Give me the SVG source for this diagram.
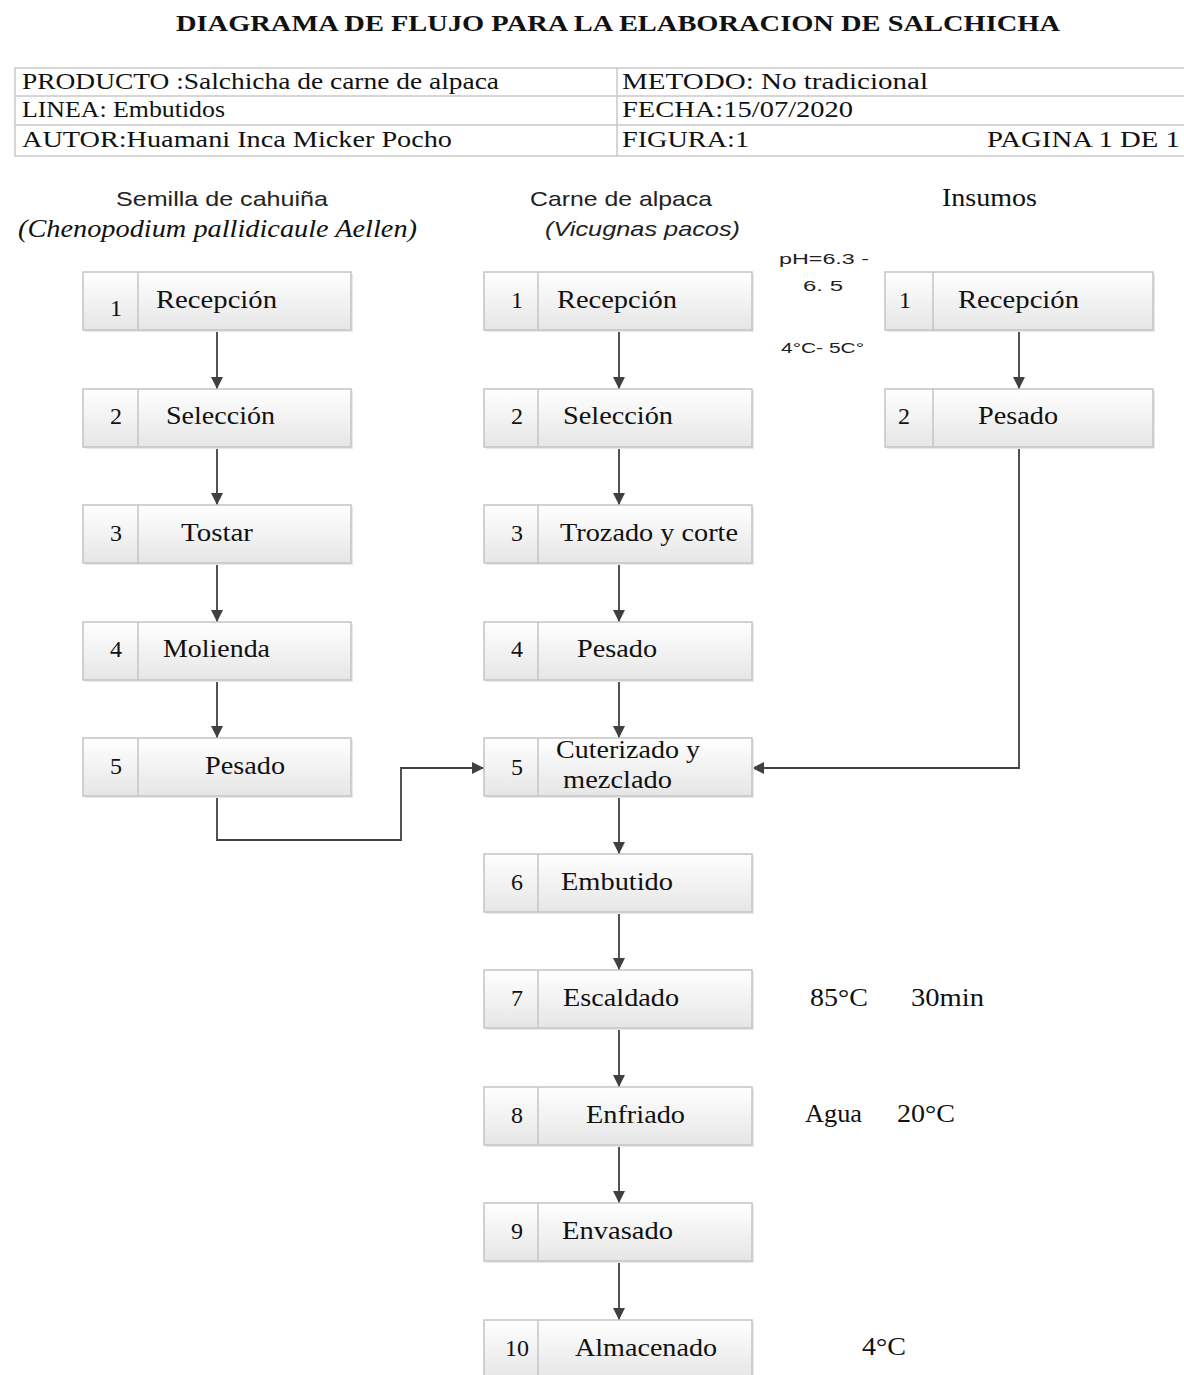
<svg xmlns="http://www.w3.org/2000/svg" width="1184" height="1375" viewBox="0 0 1184 1375">
<defs>
<linearGradient id="g" x1="0" y1="0" x2="0" y2="1">
<stop offset="0" stop-color="#ffffff"/>
<stop offset="1" stop-color="#e6e6e6"/>
</linearGradient>
<marker id="ar" markerWidth="12" markerHeight="12" refX="10" refY="5" orient="auto" markerUnits="userSpaceOnUse" viewBox="0 0 10 10">
<path d="M0,0 L10,5 L0,10 z" fill="#404040"/>
</marker>
<style>
.bx{fill:url(#g);stroke:#c4c4c4;stroke-width:1.5}
.sh{fill:#e8e8e8}
.dv{stroke:#c4c4c4;stroke-width:1.5}
.t{font-family:"Liberation Serif","Times New Roman",serif;font-size:25px;fill:#111}
.n{font-family:"Liberation Serif","Times New Roman",serif;font-size:24px;fill:#111;text-anchor:middle}
.s{font-family:"Liberation Sans",Arial,sans-serif;font-size:21px;fill:#222}
.sm{font-family:"Liberation Sans",Arial,sans-serif;font-size:15px;fill:#222}
.hd{font-family:"Liberation Serif","Times New Roman",serif;font-size:24px;fill:#111}
.tl{stroke:#c8c8c8;stroke-width:1.5;fill:none}
.c{stroke:#404040;stroke-width:1.8;fill:none}
</style>
</defs>
<rect width="1184" height="1375" fill="#ffffff"/>

<text x="176" y="31" font-family="Liberation Serif,'Times New Roman',serif" font-size="24" font-weight="bold" fill="#111" textLength="884" lengthAdjust="spacingAndGlyphs">DIAGRAMA DE FLUJO PARA LA ELABORACION DE SALCHICHA</text>

<g id="header">
<rect x="15" y="68" width="1175" height="88" class="tl"/>
<line x1="15" y1="96" x2="1184" y2="96" class="tl"/>
<line x1="15" y1="125" x2="1184" y2="125" class="tl"/>
<line x1="617" y1="68" x2="617" y2="156" class="tl"/>
<text x="22" y="89" class="hd" textLength="477" lengthAdjust="spacingAndGlyphs">PRODUCTO :Salchicha de carne de alpaca</text>
<text x="22" y="117" class="hd" font-size="19" textLength="203" lengthAdjust="spacingAndGlyphs">LINEA: Embutidos</text>
<text x="22" y="147" class="hd" textLength="430" lengthAdjust="spacingAndGlyphs">AUTOR:Huamani Inca Micker Pocho</text>
<text x="622" y="89" class="hd" textLength="306" lengthAdjust="spacingAndGlyphs">METODO:  No tradicional</text>
<text x="622" y="117" class="hd" textLength="231" lengthAdjust="spacingAndGlyphs">FECHA:15/07/2020</text>
<text x="622" y="147" class="hd" textLength="127" lengthAdjust="spacingAndGlyphs">FIGURA:1</text>
<text x="987" y="147" class="hd" textLength="193" lengthAdjust="spacingAndGlyphs">PAGINA 1 DE 1</text>
</g>

<g id="col-headers">
<text x="116" y="206" class="s" textLength="212" lengthAdjust="spacingAndGlyphs">Semilla de cahuiña</text>
<text x="18" y="237" class="t" font-size="24" font-style="italic" textLength="399" lengthAdjust="spacingAndGlyphs">(Chenopodium pallidicaule Aellen)</text>
<text x="530" y="206" class="s" textLength="182" lengthAdjust="spacingAndGlyphs">Carne de alpaca</text>
<text x="545" y="236" class="s" font-style="italic" textLength="195" lengthAdjust="spacingAndGlyphs">(Vicugnas pacos)</text>
<text x="942" y="206" class="t" textLength="95" lengthAdjust="spacingAndGlyphs">Insumos</text>
</g>

<g id="annotations">
<text x="779" y="264" class="sm" textLength="90" lengthAdjust="spacingAndGlyphs">pH=6.3 -</text>
<text x="803" y="291" class="sm" textLength="40" lengthAdjust="spacingAndGlyphs">6. 5</text>
<text x="781" y="353" class="sm" textLength="83" lengthAdjust="spacingAndGlyphs">4°C- 5C°</text>
<text x="810" y="1006" class="t" textLength="58" lengthAdjust="spacingAndGlyphs">85°C</text>
<text x="911" y="1006" class="t" textLength="73" lengthAdjust="spacingAndGlyphs">30min</text>
<text x="805" y="1122" class="t" textLength="57" lengthAdjust="spacingAndGlyphs">Agua</text>
<text x="897" y="1122" class="t" textLength="58" lengthAdjust="spacingAndGlyphs">20°C</text>
<text x="862" y="1355" class="t" textLength="44" lengthAdjust="spacingAndGlyphs">4°C</text>
</g>

<g id="connectors">
<line x1="217" y1="331" x2="217" y2="389" class="c" marker-end="url(#ar)"/>
<line x1="217" y1="447" x2="217" y2="505" class="c" marker-end="url(#ar)"/>
<line x1="217" y1="564" x2="217" y2="622" class="c" marker-end="url(#ar)"/>
<line x1="217" y1="680" x2="217" y2="738" class="c" marker-end="url(#ar)"/>
<polyline points="217,797 217,840 401,840 401,768 484,768" class="c" marker-end="url(#ar)"/>
<line x1="619" y1="331" x2="619" y2="389" class="c" marker-end="url(#ar)"/>
<line x1="619" y1="447" x2="619" y2="505" class="c" marker-end="url(#ar)"/>
<line x1="619" y1="564" x2="619" y2="622" class="c" marker-end="url(#ar)"/>
<line x1="619" y1="680" x2="619" y2="738" class="c" marker-end="url(#ar)"/>
<line x1="619" y1="797" x2="619" y2="854" class="c" marker-end="url(#ar)"/>
<line x1="619" y1="913" x2="619" y2="970" class="c" marker-end="url(#ar)"/>
<line x1="619" y1="1029" x2="619" y2="1087" class="c" marker-end="url(#ar)"/>
<line x1="619" y1="1146" x2="619" y2="1203" class="c" marker-end="url(#ar)"/>
<line x1="619" y1="1262" x2="619" y2="1320" class="c" marker-end="url(#ar)"/>
<line x1="1019" y1="331" x2="1019" y2="389" class="c" marker-end="url(#ar)"/>
<polyline points="1019,447 1019,768 752,768" class="c" marker-end="url(#ar)"/>
</g>

<!-- left column -->
<g id="L1"><rect x="85" y="274" width="268" height="58" class="sh"/><rect x="83" y="272" width="268" height="58" class="bx"/><line x1="138" y1="272" x2="138" y2="330" class="dv"/><text x="116" y="316" class="n">1</text><text x="156" y="308" class="t" textLength="121" lengthAdjust="spacingAndGlyphs">Recepción</text></g>
<g id="L2"><rect x="85" y="391" width="268" height="58" class="sh"/><rect x="83" y="389" width="268" height="58" class="bx"/><line x1="138" y1="389" x2="138" y2="447" class="dv"/><text x="116" y="424" class="n">2</text><text x="166" y="424" class="t" textLength="109" lengthAdjust="spacingAndGlyphs">Selección</text></g>
<g id="L3"><rect x="85" y="507" width="268" height="58" class="sh"/><rect x="83" y="505" width="268" height="58" class="bx"/><line x1="138" y1="505" x2="138" y2="563" class="dv"/><text x="116" y="541" class="n">3</text><text x="181" y="541" class="t" textLength="72" lengthAdjust="spacingAndGlyphs">Tostar</text></g>
<g id="L4"><rect x="85" y="624" width="268" height="58" class="sh"/><rect x="83" y="622" width="268" height="58" class="bx"/><line x1="138" y1="622" x2="138" y2="680" class="dv"/><text x="116" y="657" class="n">4</text><text x="163" y="657" class="t" textLength="107" lengthAdjust="spacingAndGlyphs">Molienda</text></g>
<g id="L5"><rect x="85" y="740" width="268" height="58" class="sh"/><rect x="83" y="738" width="268" height="58" class="bx"/><line x1="138" y1="738" x2="138" y2="796" class="dv"/><text x="116" y="774" class="n">5</text><text x="205" y="774" class="t" textLength="80" lengthAdjust="spacingAndGlyphs">Pesado</text></g>

<!-- middle column -->
<g id="M1"><rect x="486" y="274" width="268" height="58" class="sh"/><rect x="484" y="272" width="268" height="58" class="bx"/><line x1="538" y1="272" x2="538" y2="330" class="dv"/><text x="517" y="308" class="n">1</text><text x="557" y="308" class="t" textLength="120" lengthAdjust="spacingAndGlyphs">Recepción</text></g>
<g id="M2"><rect x="486" y="391" width="268" height="58" class="sh"/><rect x="484" y="389" width="268" height="58" class="bx"/><line x1="538" y1="389" x2="538" y2="447" class="dv"/><text x="517" y="424" class="n">2</text><text x="563" y="424" class="t" textLength="110" lengthAdjust="spacingAndGlyphs">Selección</text></g>
<g id="M3"><rect x="486" y="507" width="268" height="58" class="sh"/><rect x="484" y="505" width="268" height="58" class="bx"/><line x1="538" y1="505" x2="538" y2="563" class="dv"/><text x="517" y="541" class="n">3</text><text x="560" y="541" class="t" textLength="178" lengthAdjust="spacingAndGlyphs">Trozado y corte</text></g>
<g id="M4"><rect x="486" y="624" width="268" height="58" class="sh"/><rect x="484" y="622" width="268" height="58" class="bx"/><line x1="538" y1="622" x2="538" y2="680" class="dv"/><text x="517" y="657" class="n">4</text><text x="577" y="657" class="t" textLength="80" lengthAdjust="spacingAndGlyphs">Pesado</text></g>
<g id="M5"><rect x="486" y="740" width="268" height="58" class="sh"/><rect x="484" y="738" width="268" height="58" class="bx"/><line x1="538" y1="738" x2="538" y2="796" class="dv"/><text x="517" y="775" class="n">5</text><text x="556" y="758" class="t" textLength="144" lengthAdjust="spacingAndGlyphs">Cuterizado y</text><text x="563" y="788" class="t" textLength="109" lengthAdjust="spacingAndGlyphs">mezclado</text></g>
<g id="M6"><rect x="486" y="856" width="268" height="58" class="sh"/><rect x="484" y="854" width="268" height="58" class="bx"/><line x1="538" y1="854" x2="538" y2="912" class="dv"/><text x="517" y="890" class="n">6</text><text x="561" y="890" class="t" textLength="112" lengthAdjust="spacingAndGlyphs">Embutido</text></g>
<g id="M7"><rect x="486" y="972" width="268" height="58" class="sh"/><rect x="484" y="970" width="268" height="58" class="bx"/><line x1="538" y1="970" x2="538" y2="1028" class="dv"/><text x="517" y="1006" class="n">7</text><text x="563" y="1006" class="t" textLength="116" lengthAdjust="spacingAndGlyphs">Escaldado</text></g>
<g id="M8"><rect x="486" y="1089" width="268" height="58" class="sh"/><rect x="484" y="1087" width="268" height="58" class="bx"/><line x1="538" y1="1087" x2="538" y2="1145" class="dv"/><text x="517" y="1123" class="n">8</text><text x="586" y="1123" class="t" textLength="99" lengthAdjust="spacingAndGlyphs">Enfriado</text></g>
<g id="M9"><rect x="486" y="1205" width="268" height="58" class="sh"/><rect x="484" y="1203" width="268" height="58" class="bx"/><line x1="538" y1="1203" x2="538" y2="1261" class="dv"/><text x="517" y="1239" class="n">9</text><text x="562" y="1239" class="t" textLength="111" lengthAdjust="spacingAndGlyphs">Envasado</text></g>
<g id="M10"><rect x="486" y="1322" width="268" height="58" class="sh"/><rect x="484" y="1320" width="268" height="58" class="bx"/><line x1="538" y1="1320" x2="538" y2="1378" class="dv"/><text x="517" y="1356" class="n">10</text><text x="575" y="1356" class="t" textLength="142" lengthAdjust="spacingAndGlyphs">Almacenado</text></g>

<!-- right column -->
<g id="R1"><rect x="887" y="274" width="268" height="58" class="sh"/><rect x="885" y="272" width="268" height="58" class="bx"/><line x1="933" y1="272" x2="933" y2="330" class="dv"/><text x="905" y="308" class="n">1</text><text x="958" y="308" class="t" textLength="121" lengthAdjust="spacingAndGlyphs">Recepción</text></g>
<g id="R2"><rect x="887" y="391" width="268" height="58" class="sh"/><rect x="885" y="389" width="268" height="58" class="bx"/><line x1="933" y1="389" x2="933" y2="447" class="dv"/><text x="904" y="424" class="n">2</text><text x="978" y="424" class="t" textLength="80" lengthAdjust="spacingAndGlyphs">Pesado</text></g>
</svg>
